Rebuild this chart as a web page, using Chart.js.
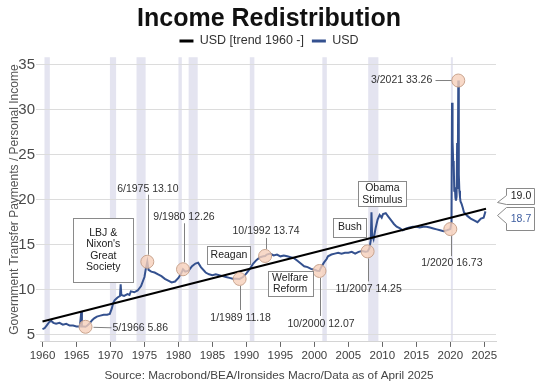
<!DOCTYPE html>
<html><head><meta charset="utf-8">
<script src="https://cdn.jsdelivr.net/npm/chart.js@4"></script>
<style>html,body{margin:0;padding:0;background:#fff}</style>
</head><body>
<canvas id="c" width="538" height="388"></canvas>
<script>
// ---------- DATA ----------
const seriesYears = [1960.0,1960.3,1960.6,1961.0,1961.3,1961.6,1962.0,1962.5,1963.0,1963.5,1964.0,1964.5,1965.0,1965.5,1965.7,1965.8,1966.0,1966.33,1966.6,1967.0,1967.3,1967.6,1968.0,1968.5,1969.0,1969.5,1969.9,1970.2,1970.4,1970.6,1971.0,1971.4,1971.5,1971.6,1972.0,1972.5,1972.8,1973.0,1973.5,1974.0,1974.5,1975.0,1975.2,1975.42,1975.6,1976.0,1976.5,1977.0,1977.5,1978.0,1978.5,1979.0,1979.5,1980.0,1980.4,1980.67,1981.0,1981.5,1982.0,1982.5,1982.9,1983.3,1984.0,1984.5,1985.0,1985.5,1986.0,1986.5,1987.0,1987.5,1988.0,1988.5,1989.0,1989.5,1990.0,1990.5,1991.0,1991.5,1992.0,1992.5,1992.75,1993.0,1993.5,1994.0,1994.5,1995.0,1995.5,1996.0,1996.5,1997.0,1997.5,1998.0,1998.5,1999.0,1999.5,2000.0,2000.4,2000.75,2001.0,2001.4,2001.8,2002.0,2002.5,2003.0,2003.5,2004.0,2004.5,2005.0,2005.5,2006.0,2006.5,2007.0,2007.5,2007.83,2008.1,2008.3,2008.4,2008.5,2008.7,2009.0,2009.3,2009.6,2009.9,2010.1,2010.5,2010.9,2011.3,2011.7,2012.1,2012.6,2013.0,2013.5,2014.0,2014.5,2015.0,2015.5,2016.0,2016.5,2017.0,2017.5,2018.0,2018.5,2019.0,2019.5,2020.0,2020.17,2020.25,2020.33,2020.42,2020.5,2020.58,2020.67,2020.75,2020.83,2020.92,2021.0,2021.08,2021.17,2021.25,2021.33,2021.42,2021.5,2021.67,2021.83,2022.0,2022.5,2023.0,2023.5,2024.0,2024.5,2024.9,2025.17];
const seriesValues = [5.6,5.7,6.0,6.4,6.5,6.3,6.2,6.3,6.1,6.2,6.0,6.0,5.9,5.9,7.5,5.9,5.9,5.86,6.0,6.3,6.6,6.8,7.0,7.1,7.2,7.2,7.3,7.9,8.5,8.8,9.1,9.3,10.6,9.4,9.3,9.5,9.4,9.8,9.7,9.9,10.4,11.4,12.3,13.10,12.2,12.0,11.9,11.7,11.5,11.2,11.0,10.8,10.9,11.3,11.8,12.26,12.0,12.1,12.6,12.9,13.0,12.5,11.9,11.7,11.6,11.7,11.6,11.5,11.4,11.3,11.2,11.2,11.18,11.4,11.8,12.3,12.9,13.3,13.6,13.7,13.74,13.9,14.0,13.8,13.9,13.7,13.8,13.7,13.6,13.5,13.2,12.9,12.6,12.5,12.3,12.2,12.1,12.07,12.5,13.0,13.4,13.7,13.9,14.0,14.1,14.0,14.1,14.1,14.2,14.0,14.2,14.3,14.2,14.25,14.6,15.5,18.6,16.0,15.6,16.8,17.8,18.3,18.0,18.4,18.5,18.1,17.7,17.3,17.0,16.8,16.6,16.8,16.9,17.0,17.0,16.9,17.0,17.0,16.9,16.8,16.7,16.6,16.5,16.6,16.73,17.5,30.8,26.5,24.3,24.0,21.0,21.4,20.2,19.9,20.3,26.3,21.2,33.26,22.8,21.0,20.3,19.8,19.5,19.1,18.6,18.2,17.9,17.7,17.5,17.9,18.0,18.7];
const trendYears = [1960.0, 2025.25];
const trendValues = [6.45, 19.0];
const markYears = [1966.33,1975.42,1980.67,1989.0,1992.75,2000.75,2007.83,2020.0,2021.17];
const markValues = [5.86,13.10,12.26,11.18,13.74,12.07,14.25,16.73,33.26];
const markLabels = ['5/1966 5.86','6/1975 13.10','9/1980 12.26','1/1989 11.18','10/1992 13.74','10/2000 12.07','11/2007 14.25','1/2020 16.73','3/2021 33.26'];
const recessionStart = [1960.29,1969.92,1973.83,1980.0,1981.5,1990.5,2001.17,2007.92,2020.08];
const recessionEnd   = [1961.08,1970.83,1975.17,1980.5,1982.83,1991.17,2001.83,2009.42,2020.25];
const xTicks = [1960,1965,1970,1975,1980,1985,1990,1995,2000,2005,2010,2015,2020,2025];
const yTicks = [5,10,15,20,25,30,35];
const boxTexts = [["LBJ &","Nixon's","Great","Society"],["Reagan"],["Welfare","Reform"],["Bush"],["Obama","Stimulus"]];
const endLabels = ['19.0','18.7'];

// ---------- LAYOUT / STYLE ----------
const FONT = "'Liberation Sans', Arial, sans-serif";
const C = {blue:'#34518f', band:'#e4e4f0', grid:'#dcdcdc', text:'#404040', leader:'#808080', box:'#8a8a8a'};
const boxLayout = [
  {x:1968.94,y:14.42,w:60,h:64},
  {x:1987.43,y:13.83,w:43,h:18},
  {x:1996.43,y:10.64,w:45,h:25},
  {x:2005.22,y:16.94,w:33,h:19},
  {x:2010.0, y:20.64,w:48,h:25}
];
const labelLayout = [
  {tx:27,ty:1.5,align:'left',  l:[7,0.5,25,1]},
  {tx:0.5,ty:-73,align:'center',l:[0.5,-67,0.5,-7]},
  {tx:1,ty:-52,align:'center', l:[1,-46,1,-7]},
  {tx:1,ty:39,align:'center',  l:[0.5,7,0.5,31]},
  {tx:1,ty:-24.5,align:'center',l:[0.5,-18,0.5,-7]},
  {tx:1.5,ty:53,align:'center',l:[0.5,7,0.5,45]},
  {tx:1,ty:37.5,align:'center',l:[0.5,7,0.5,30]},
  {tx:1.5,ty:34.5,align:'center',l:[0.5,7,0.5,27]},
  {tx:-26,ty:0,align:'right',  l:[-23,0,-7,0]}
];
const calloutLayout = [
  {x:506,y:188,w:28,h:16,tipX:497,tipY:202,pTop:195,pBot:204,color:'#222'},
  {x:506,y:207,w:28,h:23,tipX:497,tipY:215,pTop:207,pBot:223,color:'#3d5da0'}
];

const annot = {
  id:'annot',
  beforeDraw(chart){
    const {ctx, chartArea:a, scales:{x}} = chart;
    ctx.save();
    ctx.fillStyle = C.band;
    recessionStart.forEach((s,i)=>{
      const x0 = x.getPixelForValue(s), x1 = x.getPixelForValue(recessionEnd[i]);
      ctx.fillRect(x0, a.top, Math.max(x1-x0,2), a.bottom-a.top);
    });
    ctx.restore();
  },
  afterDatasetsDraw(chart){
    const {ctx, scales:{x,y}} = chart;
    ctx.save();
    ctx.font = '10.5px ' + FONT;
    ctx.textBaseline = 'middle';
    markYears.forEach((yr,i)=>{
      const px = x.getPixelForValue(yr), py = y.getPixelForValue(markValues[i]);
      const L = labelLayout[i];
      ctx.strokeStyle = C.leader; ctx.lineWidth = 1;
      ctx.beginPath();
      ctx.moveTo(Math.round(px+L.l[0])+0.5, py+L.l[1]);
      ctx.lineTo(Math.round(px+L.l[2])+0.5, py+L.l[3]);
      ctx.stroke();
      ctx.fillStyle = '#333';
      ctx.textAlign = L.align;
      ctx.fillText(markLabels[i], px+L.tx, py+L.ty);
    });
    boxTexts.forEach((lines,i)=>{
      const B = boxLayout[i];
      const cx = x.getPixelForValue(B.x), cy = y.getPixelForValue(B.y);
      const x0 = Math.round(cx-B.w/2)+0.5, y0 = Math.round(cy-B.h/2)+0.5;
      ctx.fillStyle = '#fff'; ctx.fillRect(x0,y0,B.w,B.h);
      ctx.strokeStyle = C.box; ctx.lineWidth = 1; ctx.strokeRect(x0,y0,B.w,B.h);
      ctx.fillStyle = '#222'; ctx.textAlign = 'center';
      const lh = 11.5;
      lines.forEach((t,j)=>{
        ctx.fillText(t, cx, cy + (j-(lines.length-1)/2)*lh);
      });
    });
    ctx.restore();
  },
  afterDraw(chart){
    const ctx = chart.ctx;
    ctx.save();
    ctx.font = '10.5px ' + FONT;
    ctx.textBaseline = 'middle'; ctx.textAlign = 'center';
    calloutLayout.forEach((c,i)=>{
      ctx.beginPath();
      ctx.moveTo(c.x+0.5,c.y+0.5);
      ctx.lineTo(c.x+c.w+0.5,c.y+0.5);
      ctx.lineTo(c.x+c.w+0.5,c.y+c.h+0.5);
      ctx.lineTo(c.x+0.5,c.y+c.h+0.5);
      ctx.lineTo(c.x+0.5,c.pBot+0.5);
      ctx.lineTo(c.tipX+0.5,c.tipY+0.5);
      ctx.lineTo(c.x+0.5,c.pTop+0.5);
      ctx.closePath();
      ctx.fillStyle = '#fff'; ctx.fill();
      ctx.strokeStyle = C.box; ctx.lineWidth = 1; ctx.stroke();
      ctx.fillStyle = c.color;
      ctx.fillText(endLabels[i], c.x + c.w/2 + 1, c.y + c.h/2 + 0.5);
    });
    ctx.restore();
  }
};

Chart.defaults.font.family = FONT;
new Chart(document.getElementById('c'), {
  type:'line',
  data:{datasets:[
    {label:'USD [trend 1960 -]', data: trendYears.map((v,i)=>({x:v,y:trendValues[i]})), borderColor:'#000', backgroundColor:'#000', borderWidth:2, pointRadius:0, order:1},
    {label:'USD', data: seriesYears.map((v,i)=>({x:v,y:seriesValues[i]})), borderColor:C.blue, backgroundColor:C.blue, borderWidth:2, pointRadius:0, order:2},
    {label:'marks', type:'scatter', data: markYears.map((v,i)=>({x:v,y:markValues[i]})), pointRadius:6.5, pointBackgroundColor:'rgba(246,208,186,0.8)', pointBorderColor:'#c9a48e', pointBorderWidth:1, showLine:false, order:0}
  ]},
  options:{
    responsive:false, animation:false, devicePixelRatio:1,
    layout:{padding:{left:0,right:0,top:0,bottom:0}},
    plugins:{
      tooltip:{enabled:false},
      title:{display:true, text:'Income Redistribution', color:'#111', font:{size:25, weight:'bold', family:FONT, lineHeight:1.15}, padding:{top:5,bottom:0}},
      legend:{display:true, position:'top', align:'center',
        labels:{boxWidth:14, boxHeight:3, padding:1, color:'#333', font:{size:12.5},
          generateLabels:(chart)=>Chart.defaults.plugins.legend.labels.generateLabels(chart).filter(l=>l.datasetIndex<2).map(l=>({...l, text: l.datasetIndex===0 ? l.text + '  ' : l.text, lineWidth:0, fillStyle:l.strokeStyle}))}},
      subtitle:{display:true, position:'bottom', text:'Source: Macrobond/BEA/Ironsides Macro/Data as of April 2025', color:'#444', font:{size:11.75}, padding:{top:6,bottom:5}}
    },
    scales:{
      x:{type:'linear', min:1959.632, max:2026.72,
        afterBuildTicks:s=>{s.ticks = xTicks.map(v=>({value:v}));},
        afterFit:s=>{s.height = 21;},
        ticks:{callback:v=>String(v), color:C.text, font:{size:11.5}, maxRotation:0, autoSkip:false, padding:2},
        grid:{drawOnChartArea:false, tickLength:5, color:'#666'},
        border:{display:true, color:'#d4d4d4'}
      },
      y:{type:'linear', min:4.18, max:35.85,
        afterBuildTicks:s=>{s.ticks = yTicks.map(v=>({value:v}));},
        afterFit:s=>{s.width = 40;},
        ticks:{color:'#4a4a4a', font:{size:15}, padding:1},
        grid:{color:C.grid, tickLength:4},
        border:{display:false},
        title:{display:true, text:'Government Transfer Payments / Personal Income', color:'#555', font:{size:12}, padding:{top:7,bottom:0}}
      },
      yRightSpace:{type:'linear', position:'right', display:true,
        afterFit:s=>{s.width = 42;},
        ticks:{display:false}, grid:{display:false, drawTicks:false}, border:{display:false}
      }
    }
  },
  plugins:[annot]
});
</script>
</body></html>
